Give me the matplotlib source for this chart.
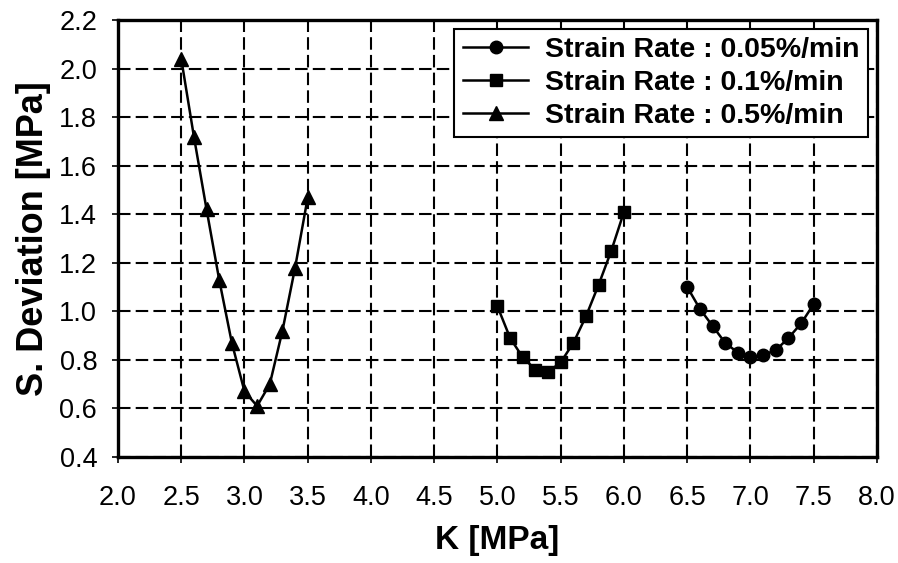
import numpy as np
import matplotlib.pyplot as plt

plt.rcParams['font.family'] = ['Liberation Sans', 'DejaVu Sans']

# strain rate 0.05 %/min
k_005 = [6.5, 6.6, 6.7, 6.8, 6.9, 7.0, 7.1, 7.2, 7.3, 7.4, 7.5]
sd_005 = [1.10, 1.01, 0.94, 0.87, 0.83, 0.81, 0.82, 0.84, 0.89, 0.95, 1.03]

# strain rate 0.1 %/min
k_01 = [5.0, 5.1, 5.2, 5.3, 5.4, 5.5, 5.6, 5.7, 5.8, 5.9, 6.0]
sd_01 = [1.02, 0.89, 0.81, 0.76, 0.75, 0.79, 0.87, 0.98, 1.11, 1.25, 1.41]

# strain rate 0.5 %/min
k_05 = [2.5, 2.6, 2.7, 2.8, 2.9, 3.0, 3.1, 3.2, 3.3, 3.4, 3.5]
sd_05 = [2.04, 1.72, 1.42, 1.13, 0.87, 0.67, 0.61, 0.70, 0.92, 1.18, 1.47]

labels = ['Strain Rate : 0.05%/min', 'Strain Rate : 0.1%/min', 'Strain Rate : 0.5%/min']

fig = plt.figure(figsize=(8.98, 5.63), dpi=100)
ax = fig.add_axes([0.1314, 0.1883, 0.8452, 0.7762])

ax.plot(k_005, sd_005, 'k-o', lw=1.8, ms=9, label=labels[0])
ax.plot(k_01, sd_01, 'k-s', lw=1.8, ms=8.5, label=labels[1])
ax.plot(k_05, sd_05, 'k-^', lw=1.8, ms=10, label=labels[2])

ax.set_xlim(2.0, 8.0)
ax.set_ylim(0.4, 2.2)
ax.set_xticks(np.arange(2.0, 8.01, 0.5))
ax.set_yticks(np.arange(0.4, 2.21, 0.2))
ax.xaxis.set_major_formatter(plt.FormatStrFormatter('%.1f'))
ax.yaxis.set_major_formatter(plt.FormatStrFormatter('%.1f'))
ax.grid(True, color='k', ls=(0, (6, 2.5)), lw=1.5)
ax.tick_params(direction='out', length=4, width=1.2, labelsize=19.5)
ax.tick_params(axis='x', pad=16)
ax.tick_params(axis='y', pad=11)
for s in ax.spines.values():
    s.set_linewidth(2.4)

ax.set_xlabel('K [MPa]', fontsize=24, fontweight='bold', labelpad=10)
ax.set_ylabel('S. Deviation [MPa]', fontsize=26, fontweight='bold', labelpad=6)

leg = ax.legend(loc='upper right', prop={'weight': 'bold', 'size': 20.5},
                frameon=True, fancybox=False, edgecolor='k', framealpha=1,
                handlelength=2.3, handletextpad=0.6, borderaxespad=0.3,
                labelspacing=0.24, borderpad=0.3)
leg.get_frame().set_linewidth(1.5)

fig.savefig('out.png', dpi=100)
